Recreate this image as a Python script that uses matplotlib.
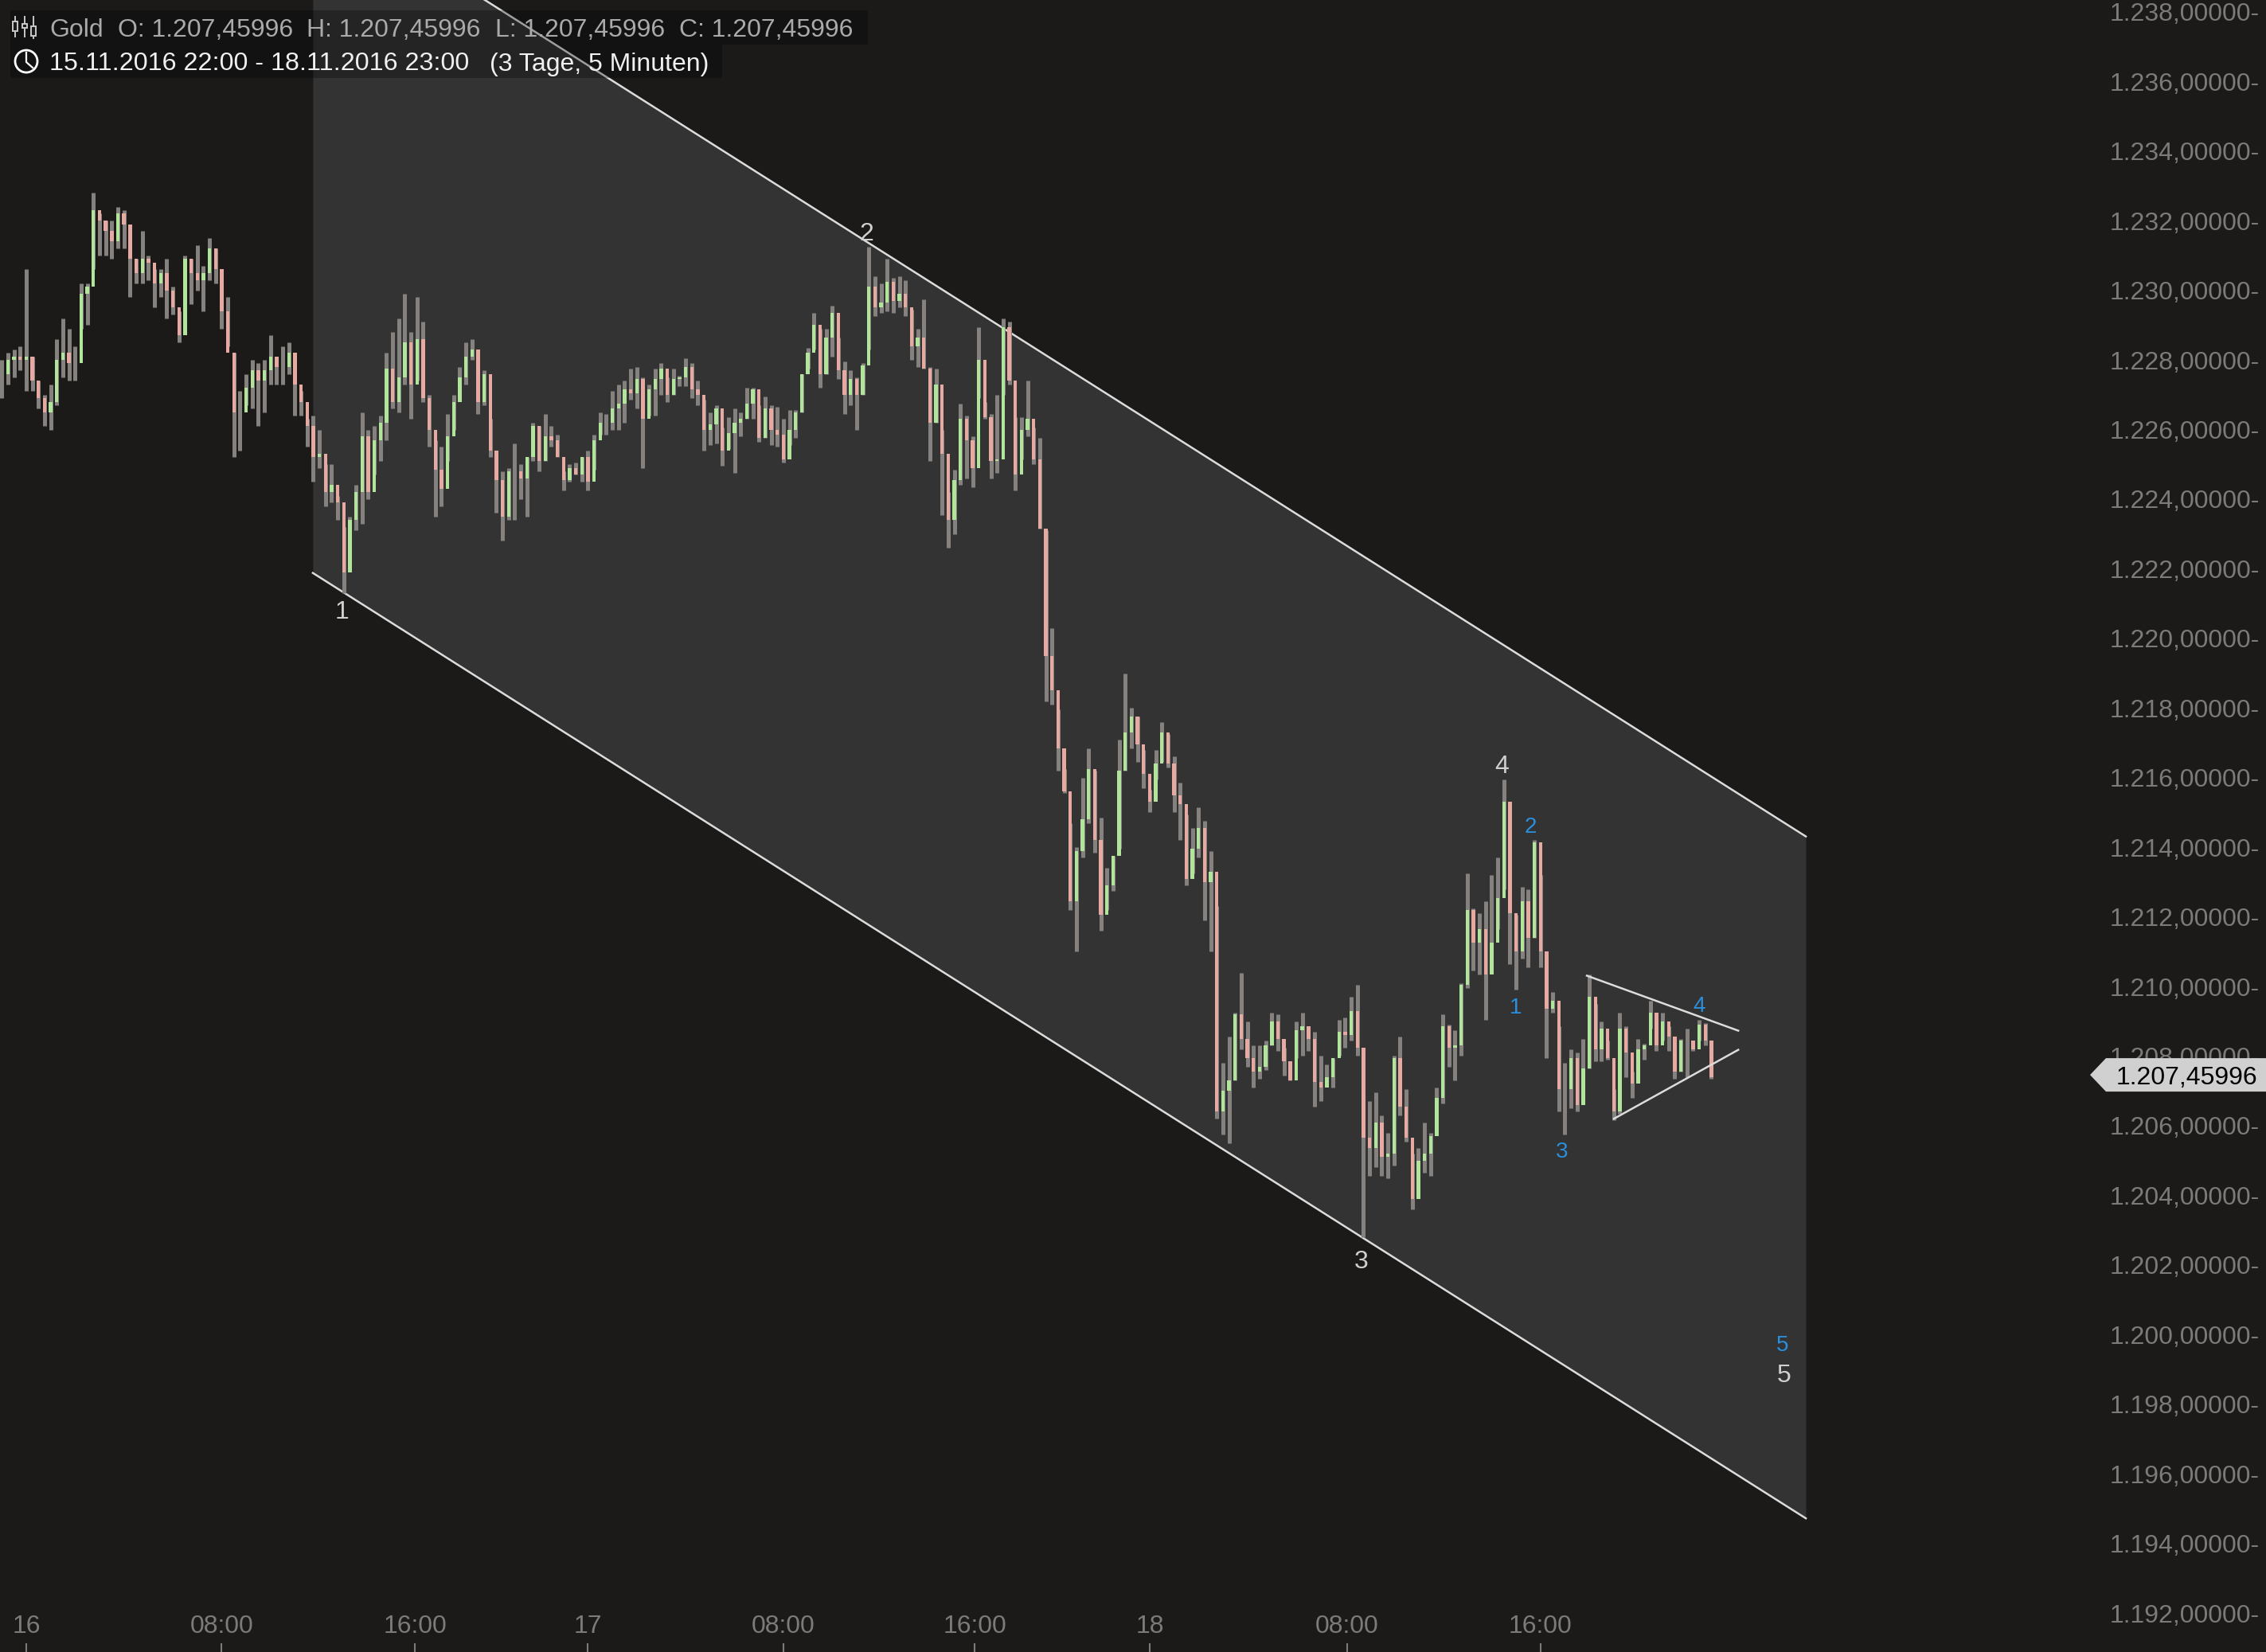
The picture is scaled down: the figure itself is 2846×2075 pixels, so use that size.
import numpy as np
import matplotlib
matplotlib.use("Agg")
import matplotlib.pyplot as plt
from matplotlib.patches import Circle, Rectangle, Polygon
from matplotlib.lines import Line2D

plt.rcParams['font.family'] = ['Liberation Sans', 'DejaVu Sans']

W, H = 2846, 2075

# every third 5 minute candle
closes = [
    1227.6, 1228.0, 1228.1, 1228.0, 1228.1, 1227.4, 1226.9, 1226.5, 1226.8, 1228.0,
    1228.2, 1227.9, 1227.9, 1229.9, 1230.1, 1232.3, 1232.0, 1231.7, 1231.4, 1232.2,
    1231.9, 1230.9, 1230.5, 1230.9, 1230.8, 1230.2, 1230.5, 1230.0, 1229.5, 1228.7,
    1230.9, 1230.5, 1230.3, 1230.5, 1231.2, 1230.6, 1229.4, 1228.2, 1226.5, 1226.5,
    1227.2, 1227.7, 1227.4, 1227.7, 1228.1, 1227.8, 1227.8, 1228.2, 1227.3, 1226.8,
    1226.1, 1225.2, 1225.3, 1224.2, 1224.4, 1223.9, 1221.9, 1223.4, 1224.2, 1225.8,
    1224.2, 1225.7, 1226.2, 1227.75, 1226.8, 1227.5, 1228.5, 1227.3, 1228.6, 1226.9,
    1226.0, 1224.85, 1224.3, 1225.8, 1226.8, 1227.5, 1228.1, 1228.3, 1226.8, 1227.6,
    1225.4, 1224.55, 1223.5, 1224.8, 1224.8, 1224.6, 1225.2, 1226.1, 1225.1, 1225.8,
    1225.7, 1225.2, 1224.55, 1224.9, 1224.7, 1225.2, 1224.5, 1225.7, 1226.2, 1226.2,
    1226.6, 1226.75, 1227.15, 1227.05, 1227.45, 1226.3, 1227.15, 1227.45, 1227.75, 1227.0,
    1227.45, 1227.5, 1227.8, 1227.15, 1227.0, 1226.0, 1226.15, 1226.6, 1225.4, 1225.9,
    1226.2, 1226.3, 1226.75, 1227.15, 1225.75, 1226.6, 1226.0, 1225.85, 1225.15, 1226.0,
    1226.5, 1227.6, 1228.2, 1229.0, 1227.6, 1228.65, 1229.35, 1227.7, 1227.0, 1227.45,
    1227.0, 1227.85, 1230.1, 1229.5, 1229.65, 1230.25, 1229.7, 1229.9, 1229.5, 1228.4,
    1228.65, 1227.75, 1226.2, 1227.3, 1225.3, 1223.4, 1224.55, 1226.3, 1225.7, 1224.9,
    1228.0, 1226.35, 1225.1, 1225.15, 1228.95, 1227.4, 1224.7, 1226.0, 1226.3, 1225.15,
    1223.15, 1219.5, 1218.5, 1216.85, 1215.6, 1212.45, 1213.9, 1214.8, 1216.25, 1214.2,
    1212.05, 1212.9, 1213.75, 1216.2, 1217.3, 1217.75, 1216.95, 1216.1, 1215.3, 1216.4,
    1217.3, 1216.4, 1215.5, 1215.25, 1213.1, 1213.95, 1214.55, 1213.0, 1213.3, 1206.4,
    1207.0, 1207.3, 1209.2, 1208.5, 1207.95, 1207.55, 1207.7, 1208.3, 1209.0, 1208.5,
    1207.85, 1207.3, 1208.75, 1208.85, 1208.5, 1207.25, 1207.1, 1207.4, 1207.95, 1208.7,
    1208.6, 1209.3, 1208.25, 1205.65, 1205.35, 1206.1, 1205.1, 1205.2, 1207.95, 1206.55,
    1205.65, 1203.9, 1205.0, 1205.2, 1205.7, 1206.8, 1208.85, 1208.25, 1208.3, 1210.05,
    1212.2, 1211.25, 1211.65, 1210.35, 1211.25, 1212.55, 1215.3, 1212.1, 1211.0, 1212.45,
    1211.4, 1214.15, 1211.0, 1209.35, 1209.6, 1207.05, 1207.05, 1207.95, 1206.6, 1207.65,
    1209.7, 1208.2, 1208.8, 1207.95, 1206.4, 1208.8, 1208.1, 1207.2, 1208.2, 1208.3,
    1209.25, 1208.3, 1209.0, 1208.55, 1207.55, 1208.45, 1208.45, 1208.2, 1208.9, 1208.45,
    1207.4,
]
highs = [
    1228.0, 1228.2, 1228.3, 1228.4, 1230.6, 1228.1, 1227.4, 1227.0, 1227.3, 1228.6,
    1229.2, 1228.9, 1228.4, 1230.2, 1230.2, 1232.8, 1232.2, 1232.0, 1232.0, 1232.4,
    1232.3, 1231.5, 1230.9, 1231.7, 1231.0, 1230.6, 1230.6, 1230.9, 1230.1, 1229.4,
    1231.0, 1230.9, 1231.3, 1230.7, 1231.5, 1231.2, 1229.9, 1229.8, 1228.2, 1227.1,
    1227.6, 1228.0, 1227.9, 1228.0, 1228.7, 1228.1, 1228.4, 1228.5, 1227.8, 1227.1,
    1226.3, 1226.4, 1226.0, 1225.0, 1225.0, 1224.1, 1223.2, 1223.5, 1224.4, 1226.5,
    1226.0, 1226.1, 1226.4, 1228.2, 1228.8, 1229.2, 1229.9, 1228.8, 1229.8, 1229.1,
    1227.0, 1225.7, 1225.5, 1226.45, 1227.0, 1227.8, 1228.5, 1228.6, 1228.0, 1227.7,
    1226.3, 1225.4, 1224.8, 1224.9, 1225.6, 1225.0, 1225.2, 1226.2, 1226.1, 1226.45,
    1226.1, 1225.85, 1224.8, 1225.0, 1225.05, 1225.2, 1225.4, 1225.85, 1226.5, 1226.45,
    1227.1, 1227.3, 1227.4, 1227.75, 1227.8, 1227.5, 1227.3, 1227.75, 1227.9, 1227.5,
    1227.75, 1227.55, 1228.05, 1227.9, 1227.4, 1226.85, 1226.5, 1226.7, 1226.05, 1226.35,
    1226.6, 1226.5, 1227.2, 1227.2, 1226.7, 1226.95, 1226.7, 1226.65, 1226.3, 1226.55,
    1226.55, 1227.6, 1228.35, 1229.35, 1228.9, 1228.9, 1229.55, 1228.65, 1227.95, 1227.7,
    1227.5, 1227.9, 1231.25, 1230.4, 1230.2, 1230.9, 1230.35, 1230.4, 1230.3, 1229.45,
    1228.9, 1229.75, 1227.8, 1227.75, 1226.0, 1224.2, 1224.85, 1226.75, 1226.4, 1225.8,
    1228.95, 1226.8, 1226.45, 1227.0, 1229.2, 1229.1, 1226.35, 1226.35, 1227.4, 1226.05,
    1225.75, 1223.1, 1220.3, 1217.95, 1216.25, 1214.7, 1214.0, 1216.0, 1216.85, 1216.2,
    1214.85, 1213.4, 1213.75, 1217.1, 1219.0, 1218.0, 1217.75, 1216.8, 1215.65, 1216.8,
    1217.6, 1217.25, 1216.6, 1215.85, 1214.95, 1214.55, 1215.15, 1214.75, 1213.9, 1212.3,
    1207.8, 1208.55, 1209.25, 1210.4, 1209.0, 1208.3, 1208.3, 1208.45, 1209.25, 1209.2,
    1208.25, 1207.8, 1209.0, 1209.25, 1208.7, 1208.7, 1208.0, 1207.75, 1207.95, 1209.05,
    1209.1, 1209.7, 1210.05, 1208.0, 1206.7, 1206.95, 1206.3, 1205.8, 1208.0, 1208.55,
    1207.05, 1205.2, 1205.35, 1206.1, 1205.8, 1207.1, 1209.2, 1208.9, 1208.75, 1210.1,
    1213.25, 1212.25, 1212.1, 1212.45, 1213.2, 1213.7, 1215.95, 1214.2, 1212.05, 1212.85,
    1212.8, 1214.2, 1213.2, 1210.35, 1209.85, 1208.85, 1207.8, 1208.2, 1208.1, 1208.5,
    1210.35, 1209.5, 1209.0, 1208.45, 1207.05, 1209.25, 1208.85, 1207.55, 1208.5, 1208.35,
    1209.6, 1208.95, 1209.25, 1208.85, 1208.35, 1208.5, 1208.8, 1208.45, 1209.05, 1208.95,
    1208.45,
]
lows = [
    1226.9, 1227.3, 1227.5, 1227.7, 1227.1, 1227.1, 1226.6, 1226.1, 1226.0, 1226.7,
    1227.5, 1227.4, 1227.4, 1228.9, 1229.0, 1230.6, 1231.0, 1231.0, 1230.9, 1231.2,
    1231.2, 1229.8, 1230.2, 1230.2, 1230.3, 1229.5, 1229.8, 1229.2, 1229.3, 1228.5,
    1229.0, 1229.6, 1230.0, 1229.4, 1230.3, 1230.2, 1228.9, 1228.4, 1225.2, 1225.4,
    1226.7, 1226.6, 1226.1, 1226.5, 1227.3, 1227.3, 1227.3, 1227.6, 1226.4, 1226.4,
    1225.5, 1224.5, 1224.9, 1223.8, 1223.9, 1223.4, 1221.3, 1222.3, 1223.1, 1223.3,
    1224.0, 1224.7, 1225.1, 1225.7, 1226.6, 1226.5, 1227.3, 1226.3, 1227.4, 1226.8,
    1225.5, 1223.5, 1223.8, 1225.1, 1226.0, 1227.0, 1227.3, 1228.0, 1226.45, 1226.7,
    1225.2, 1223.6, 1222.8, 1223.4, 1223.4, 1224.0, 1223.5, 1225.1, 1224.8, 1225.1,
    1225.5, 1225.2, 1224.25, 1224.5, 1224.7, 1224.5, 1224.25, 1224.85, 1225.85, 1225.85,
    1226.0, 1226.0, 1226.2, 1226.85, 1226.6, 1224.9, 1226.4, 1226.4, 1227.0, 1226.8,
    1227.0, 1227.25, 1227.25, 1226.9, 1226.7, 1225.4, 1225.55, 1225.6, 1224.95, 1225.45,
    1224.75, 1225.8, 1226.3, 1226.3, 1225.65, 1225.75, 1225.55, 1225.5, 1225.05, 1225.55,
    1225.75, 1226.5, 1227.75, 1228.3, 1227.2, 1227.6, 1228.1, 1227.45, 1226.45, 1226.7,
    1226.0, 1227.0, 1228.3, 1229.25, 1229.35, 1229.4, 1229.35, 1229.5, 1229.25, 1228.0,
    1227.8, 1227.75, 1225.1, 1226.2, 1223.55, 1222.6, 1223.0, 1224.4, 1224.6, 1224.35,
    1226.9, 1226.3, 1224.6, 1224.75, 1227.0, 1227.3, 1224.25, 1225.15, 1225.8, 1225.0,
    1223.15, 1218.2, 1218.1, 1216.2, 1215.55, 1212.2, 1211.0, 1213.7, 1214.7, 1213.85,
    1211.6, 1212.2, 1212.75, 1213.95, 1216.2, 1216.85, 1216.45, 1215.7, 1215.0, 1215.95,
    1216.45, 1216.3, 1215.0, 1214.2, 1212.9, 1213.25, 1213.7, 1211.9, 1211.0, 1206.2,
    1205.75, 1205.5, 1207.3, 1208.2, 1207.7, 1207.1, 1207.35, 1207.6, 1208.3, 1208.15,
    1207.45, 1207.3, 1207.95, 1208.0, 1208.15, 1206.55, 1206.7, 1207.15, 1207.1, 1208.0,
    1208.25, 1208.45, 1208.0, 1202.8, 1204.55, 1204.8, 1204.55, 1204.5, 1204.85, 1206.3,
    1205.55, 1203.6, 1204.3, 1204.65, 1204.55, 1205.8, 1206.65, 1207.7, 1207.3, 1208.0,
    1209.95, 1210.45, 1210.35, 1209.05, 1210.8, 1211.65, 1212.8, 1210.65, 1209.9, 1210.8,
    1210.55, 1211.4, 1210.55, 1207.95, 1209.25, 1206.4, 1205.75, 1206.5, 1206.4, 1206.85,
    1207.65, 1207.85, 1207.85, 1207.9, 1206.15, 1206.35, 1207.4, 1206.8, 1207.5, 1207.9,
    1208.8, 1208.15, 1208.45, 1208.15, 1207.35, 1207.55, 1207.4, 1208.15, 1208.45, 1208.3,
    1207.35,
]

y_ticks = [1238 - 2 * k for k in range(24)]
x_tick_bars = [0, 96, 191, 276, 372, 466, 552, 649, 744]
x_tick_labels = ['16', '08:00', '16:00', '17', '08:00', '16:00', '18', '08:00', '16:00']

last_price = 1207.45996

# channel and triangle, bar number / price
channel_x = [140.8, 874.4]
channel_top = [1241.47, 1214.31]
channel_bottom = [1221.88, 1194.72]
tri_top_x = [766.8, 841.2]
tri_top_y = [1210.31, 1208.73]
tri_bot_x = [780.1, 841.2]
tri_bot_y = [1206.2, 1208.18]

wave_labels = ['1', '2', '3', '4', '5']
wave_x = [155.3, 413, 656, 725, 863.5]
wave_y = [1220.74, 1231.62, 1202.08, 1216.32, 1198.82]
sub_x = [732, 739, 754.7, 822, 862.7]
sub_y = [1209.38, 1214.58, 1205.24, 1209.44, 1199.68]

BG = '#1b1a19'
FILL = '#333333'
LINE = '#dcdcdc'
GREY = '#7d7a78'
WICK = '#85817e'
UP = '#b2e59c'
DOWN = '#e6aaa2'
BLUE = '#2a8fdc'

fig = plt.figure(figsize=(W / 100, H / 100), dpi=100, facecolor=BG)
ax = fig.add_axes([0, 0, 1, 1], facecolor=BG)
ax.set_xlim(-12.9, 1100.5)
ax.set_ylim(1190.88, 1238.34)
for s in ax.spines.values():
    s.set_visible(False)

# channel
ax.fill_between(channel_x, channel_bottom, channel_top, color=FILL, lw=0, zorder=1)
ax.plot(channel_x, channel_top, color=LINE, lw=1.8, zorder=2)
ax.plot(channel_x, channel_bottom, color=LINE, lw=1.8, zorder=2)

# candles
closes = np.array(closes)
opens = np.r_[closes[0], closes[:-1]]
bars = np.arange(len(closes)) * 3 - 12
ax.vlines(bars, lows, highs, color=WICK, lw=3.6, zorder=3)
up = closes >= opens
ax.bar(bars[up], (closes - opens)[up], bottom=opens[up], width=1.7, color=UP, lw=0, zorder=4)
ax.bar(bars[~up], (opens - closes)[~up], bottom=closes[~up], width=1.7, color=DOWN, lw=0, zorder=4)

# triangle
ax.plot(tri_top_x, tri_top_y, color=LINE, lw=1.8, zorder=5)
ax.plot(tri_bot_x, tri_bot_y, color=LINE, lw=1.8, zorder=5)

# wave numbers
for t, x, y in zip(wave_labels, wave_x, wave_y):
    ax.text(x, y, t, color='#d0d0d0', fontsize=23, ha='center', va='center', zorder=6)
for t, x, y in zip(wave_labels, sub_x, sub_y):
    ax.text(x, y, t, color=BLUE, fontsize=20, ha='center', va='center', zorder=6)

# axes
ax.yaxis.tick_right()
ax.set_yticks(y_ticks)
ax.set_yticklabels([f"1.{v - 1000},00000-" for v in y_ticks])
ax.tick_params(axis='y', length=0, pad=-6, labelsize=23, labelcolor=GREY)
for lab in ax.get_yticklabels():
    lab.set_ha('right')
ax.set_xticks(x_tick_bars)
ax.set_xticklabels(x_tick_labels)
ax.tick_params(axis='x', direction='in', length=8, width=1.5, color=GREY, pad=-34,
               labelsize=23, labelcolor=GREY)


def fx(px):
    return px / W


def fy(py):
    return 1 - py / H


# price tag at the last price
tag_y = ax.transData.transform((0, last_price))[1]
tag_py = H - tag_y
fig.add_artist(Polygon([(fx(2625), fy(tag_py)), (fx(2645), fy(tag_py - 21)), (1, fy(tag_py - 21)),
                        (1, fy(tag_py + 21)), (fx(2645), fy(tag_py + 21))],
                       closed=True, transform=fig.transFigure, color='#d0d0d0', lw=0, zorder=10))
fig.text(fx(2835), fy(tag_py), "1.207,45996", color='black', fontsize=23, ha='right',
         va='center_baseline', zorder=11)

# header
fig.add_artist(Rectangle((fx(13), fy(56)), fx(1077), 43 / H, transform=fig.transFigure,
                         color='black', alpha=0.28, lw=0, zorder=8))
fig.add_artist(Rectangle((fx(13), fy(98)), fx(894), 42 / H, transform=fig.transFigure,
                         color='black', alpha=0.28, lw=0, zorder=8))
head = [(62, 'Gold'), (148, 'O: 1.207,45996'), (385, 'H: 1.207,45996'),
        (622, 'L: 1.207,45996'), (853, 'C: 1.207,45996')]
for px, t in head:
    fig.text(fx(px), fy(35), t, color='#aaaaaa', fontsize=23, va='center_baseline', zorder=9)
fig.text(fx(62), fy(77), '15.11.2016 22:00 - 18.11.2016 23:00', color='#f0f0f0', fontsize=23.2,
         va='center_baseline', zorder=9)
fig.text(fx(615), fy(77), '(3 Tage, 5 Minuten)', color='#f0f0f0', fontsize=23,
         va='center_baseline', zorder=9)

# little candle icon
for px, top, bot, b1, b2 in [(19, 21, 46, 27, 39), (31, 21, 46, 30, 35), (42, 21, 48, 33, 45)]:
    fig.add_artist(Line2D([fx(px), fx(px)], [fy(top), fy(bot)], color='#c8c8c8', lw=1.4, zorder=9))
    fig.add_artist(Rectangle((fx(px - 3), fy(b2)), 6 / W, (b2 - b1) / H, transform=fig.transFigure,
                             facecolor=BG, edgecolor='#c8c8c8', lw=1.4, zorder=9))

# clock icon, drawn in pixels so it stays round
clock = Circle((33, H - 77), 14, transform=None, fill=False, edgecolor='white', lw=2, zorder=9)
fig.add_artist(clock)
fig.add_artist(Line2D([fx(33), fx(33), fx(41)], [fy(66), fy(78), fy(85)], color='white', lw=1.6, zorder=9))

fig.savefig('out.png', dpi=100, facecolor=BG)
